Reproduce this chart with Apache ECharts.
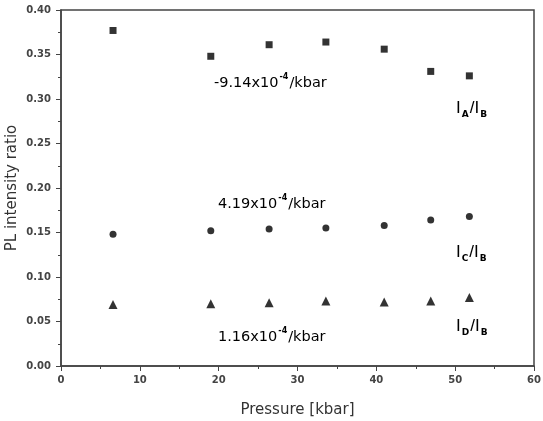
<!DOCTYPE html>
<html>
<head>
<meta charset="utf-8">
<script src="https://cdn.jsdelivr.net/npm/echarts@6/dist/echarts.min.js"></script>
<style>
  html, body { margin: 0; padding: 0; background: #fff; }
  #container { width: 543px; height: 421px; }
</style>
</head>
<body>
<div id="container"></div>
<script>
var pressure = [6.6, 19.0, 26.4, 33.6, 41.0, 46.9, 51.8];
var ratioAB = [0.377, 0.348, 0.361, 0.364, 0.356, 0.331, 0.326];
var ratioCB = [0.148, 0.152, 0.154, 0.155, 0.158, 0.164, 0.168];
var ratioDB = [0.069, 0.070, 0.071, 0.073, 0.072, 0.073, 0.077];
var xTicks = [0, 10, 20, 30, 40, 50, 60];
var yTicks = [0, 0.05, 0.10, 0.15, 0.20, 0.25, 0.30, 0.35, 0.40];

function pairs(ys) {
    return pressure.map(function (x, i) { return [x, ys[i]]; });
}

var dom = document.getElementById("container");
var myChart = echarts.init(dom);

var font = 'DejaVu Sans, Arial, sans-serif';
function slopeText(x, y, num) {
    return { type: 'text', x: x, y: y, style: {
        text: '{n|' + num + 'x10}{s|-4}{n|/kbar}',
        textVerticalAlign: 'middle',
        rich: {
            n: { fontSize: 14.5, fontFamily: font, color: '#3a3a3a' },
            s: { fontSize: 8, fontFamily: font, fontWeight: 'bold', color: '#3a3a3a', padding: [0, 1, 12, 1] }
        }
    } };
}
function ratioText(x, y, sub) {
    return { type: 'text', x: x, y: y, style: {
        text: '{i|I}{sb|' + sub + '}{i|/I}{sb|B}',
        textVerticalAlign: 'middle',
        rich: {
            i: { fontSize: 17, fontFamily: 'Liberation Sans, Arial', color: '#333' },
            sb: { fontSize: 9, fontFamily: font, fontWeight: 'bold', color: '#333', padding: [14, 1, 0, 1] }
        }
    } };
}

option = {
    animation: false,
    grid: { left: 61, right: 9, top: 10, bottom: 55, outerBoundsMode: 'none', containLabel: false,
            show: true, borderColor: '#444', borderWidth: 1.5 },
    xAxis: {
        type: 'value', min: 0, max: 60, interval: 10,
        name: 'Pressure [kbar]', nameLocation: 'middle', nameGap: 37,
        nameTextStyle: { fontSize: 15, fontFamily: font, color: '#333' },
        axisLine: { lineStyle: { color: '#444', width: 1.5 } },
        axisTick: { inside: false, length: 5, lineStyle: { color: '#444' } },
        minorTick: { show: true, splitNumber: 2, length: 3, lineStyle: { color: '#444' } },
        splitLine: { show: false },
        axisLabel: { fontSize: 10, fontFamily: font, fontWeight: 'bold', color: '#444', margin: 9,
            formatter: function (v) { return xTicks.indexOf(v) >= 0 ? String(v) : ''; } }
    },
    yAxis: {
        type: 'value', min: 0, max: 0.4, interval: 0.05,
        name: 'PL intensity ratio', nameLocation: 'middle', nameGap: 41, nameMoveOverlap: false,
        nameTextStyle: { fontSize: 15, fontFamily: font, color: '#333' },
        axisLine: { show: true, lineStyle: { color: '#444', width: 1.5 } },
        axisTick: { show: true, inside: false, length: 5, lineStyle: { color: '#444' } },
        minorTick: { show: true, splitNumber: 2, length: 3, lineStyle: { color: '#444' } },
        splitLine: { show: false },
        axisLabel: { fontSize: 10, fontFamily: font, fontWeight: 'bold', color: '#444', margin: 10,
            formatter: function (v) {
                var t = yTicks.find(function (y) { return Math.abs(y - v) < 1e-9; });
                return t === undefined ? '' : t.toFixed(2);
            } }
    },
    series: [
        { name: 'IA/IB', type: 'scatter', symbol: 'rect', symbolSize: 7,
          itemStyle: { color: '#000' }, data: pairs(ratioAB) },
        { name: 'IC/IB', type: 'scatter', symbol: 'circle', symbolSize: 7,
          itemStyle: { color: '#000' }, data: pairs(ratioCB) },
        { name: 'ID/IB', type: 'scatter', symbol: 'triangle', symbolSize: 9,
          itemStyle: { color: '#000' }, data: pairs(ratioDB) }
    ],
    graphic: [
        slopeText(214, 83, '-9.14'),
        slopeText(218, 204, '4.19'),
        slopeText(218, 337, '1.16'),
        ratioText(456, 108, 'A'),
        ratioText(456, 252, 'C'),
        ratioText(456, 326, 'D')
    ]
};

if (option && typeof option === "object") {
    myChart.setOption(option, true);
}
</script>
</body>
</html>
